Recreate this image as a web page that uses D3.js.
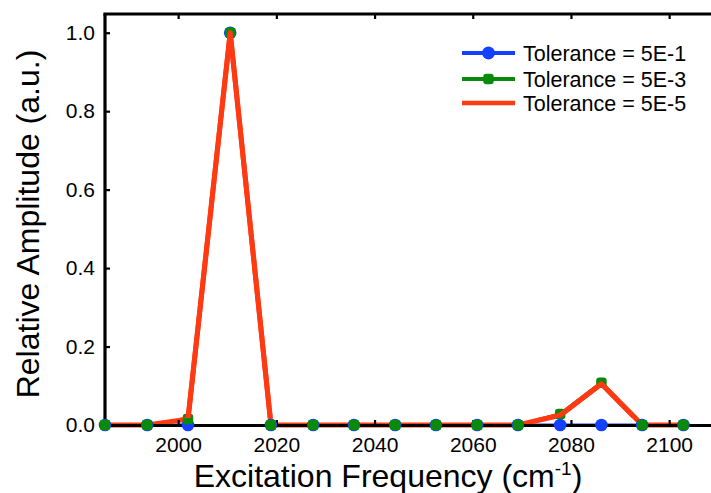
<!DOCTYPE html>
<html>
<head>
<meta charset="utf-8">
<script src="https://cdn.jsdelivr.net/npm/d3@7/dist/d3.min.js"></script>
<style>
  html, body { margin: 0; padding: 0; background: #fff; }
  svg { display: block; }
  text { font-family: "Liberation Sans", Arial, Helvetica, sans-serif; fill: #000; }
</style>
</head>
<body>
<svg id="chart" width="711" height="493"></svg>
<script>
// Excitation frequencies (cm-1) of the sampled points
const frequencies = [1985.1, 1993.7, 2002.0, 2010.6, 2018.9, 2027.5, 2035.8, 2044.2,
                     2052.5, 2060.9, 2069.2, 2077.8, 2086.2, 2094.5, 2102.9];

// Relative amplitude for each convergence tolerance
const tol5e1 = [0, 0, 0, 1.0, 0, 0, 0, 0, 0, 0, 0, 0, 0, 0, 0];
const tol5e3 = [0, 0, 0.015, 1.0, 0, 0, 0, 0, 0, 0, 0, 0.028, 0.108, 0, 0];
const tol5e5 = [0, 0, 0.015, 1.0, 0, 0, 0, 0, 0, 0, 0, 0.025, 0.105, 0, 0];

const seriesNames = ["Tolerance = 5E-1", "Tolerance = 5E-3", "Tolerance = 5E-5"];

const xTicks = [2000, 2020, 2040, 2060, 2080, 2100];
const yTicks = [0.0, 0.2, 0.4, 0.6, 0.8, 1.0];

const xDomain = [1985.1, 2110];
const yDomain = [0, 1.0477];

const svg = d3.select("#chart");
const margin = { left: 105, top: 14, bottom: 425 };
const plotRight = 105 + (xDomain[1] - xDomain[0]) * 4.91;

const x = d3.scaleLinear().domain(xDomain).range([margin.left, plotRight]);
const y = d3.scaleLinear().domain(yDomain).range([margin.bottom, margin.top]);

const colors = ["#1440ff", "#0a8a0a", "#ff3a12"];

// Layers: traces below the frame, markers above it, raised red segments on top
const linesG = svg.append("g");
const axisG = svg.append("g");
const markersG = svg.append("g");
const redG = svg.append("g");

const axBottom = axisG.append("g")
  .attr("transform", `translate(0,${margin.bottom})`)
  .call(d3.axisBottom(x).tickValues(xTicks).tickSize(-5).tickPadding(12).tickFormat(d3.format("d")));
const axTop = axisG.append("g")
  .attr("transform", `translate(0,${margin.top})`)
  .call(d3.axisTop(x).tickValues(xTicks).tickSize(-5).tickFormat(""));
const axLeft = axisG.append("g")
  .attr("transform", `translate(${margin.left},0)`)
  .call(d3.axisLeft(y).tickValues(yTicks).tickSize(-5).tickPadding(10).tickFormat(d3.format(".1f")));

[axBottom, axTop, axLeft].forEach(g => {
  g.select(".domain").attr("stroke", "#000").attr("stroke-width", 3.2);
  g.selectAll(".tick line").attr("stroke", "#000").attr("stroke-width", 2.2);
  g.selectAll(".tick text").style("font-size", "21px").attr("fill", "#000");
});
axBottom.select(".domain").attr("d", `M${margin.left},0.5H${plotRight}`);
axTop.select(".domain").attr("d", `M${margin.left - 1.6},0H${plotRight}`);
axLeft.select(".domain").attr("d", `M0,${margin.top}V${margin.bottom + 2}`);

// Series
const seriesData = [tol5e1, tol5e3, tol5e5].map(vals =>
  vals.map((v, i) => ({ f: frequencies[i], v })));

const line = d3.line().x(d => x(d.f)).y(d => y(d.v));
const lineWidths = [3, 3.2, 5];

seriesData.forEach((data, i) => {
  linesG.append("path").datum(data)
    .attr("d", line).attr("fill", "none")
    .attr("stroke", colors[i]).attr("stroke-width", lineWidths[i]).attr("stroke-linejoin", "round");
});

// Blue circle markers
markersG.selectAll(".m0").data(seriesData[0]).enter().append("circle")
  .attr("cx", d => x(d.f)).attr("cy", d => y(d.v)).attr("r", 6.3)
  .attr("fill", colors[0]);

// Green rounded square markers
const ms = 10.5;
markersG.selectAll(".m1").data(seriesData[1]).enter().append("rect")
  .attr("x", d => x(d.f) - ms / 2).attr("y", d => y(d.v) - ms / 2)
  .attr("width", ms).attr("height", ms).attr("rx", 3.2)
  .attr("fill", colors[1]);

// Red trace again above the markers, clipped away from the baseline
svg.append("clipPath").attr("id", "raisedClip")
  .append("rect").attr("x", margin.left).attr("y", margin.top)
  .attr("width", plotRight - margin.left).attr("height", y(0) - 7 - margin.top);
redG.append("path").datum(seriesData[2])
  .attr("d", line).attr("fill", "none")
  .attr("stroke", colors[2]).attr("stroke-width", lineWidths[2]).attr("stroke-linejoin", "round")
  .attr("clip-path", "url(#raisedClip)");

// Legend
const legend = svg.append("g");
const legendRows = [53, 79, 103];
seriesNames.forEach((name, i) => {
  const ly = legendRows[i];
  legend.append("line")
    .attr("x1", 462).attr("x2", 515).attr("y1", ly).attr("y2", ly)
    .attr("stroke", colors[i]).attr("stroke-width", i === 2 ? 4.5 : 4);
  if (i === 0) {
    legend.append("circle").attr("cx", 488.5).attr("cy", ly).attr("r", 6.5).attr("fill", colors[0]);
  } else if (i === 1) {
    legend.append("rect").attr("x", 488.5 - ms / 2).attr("y", ly - ms / 2)
      .attr("width", ms).attr("height", ms).attr("rx", 3.2).attr("fill", colors[1]);
  }
  legend.append("text")
    .attr("x", 523).attr("y", ly).attr("dy", "0.35em")
    .style("font-size", "21.5px").text(name);
});

// Axis titles
const xTitle = svg.append("text")
  .attr("x", 388).attr("y", 487).attr("text-anchor", "middle")
  .style("font-size", "32px");
xTitle.append("tspan").text("Excitation Frequency (cm");
xTitle.append("tspan").attr("dy", "-12").style("font-size", "19px").text("-1");
xTitle.append("tspan").attr("dy", "12").text(")");

svg.append("text")
  .attr("transform", "translate(39,224) rotate(-90)")
  .attr("text-anchor", "middle")
  .style("font-size", "32px")
  .text("Relative Amplitude (a.u.)");
</script>
</body>
</html>
